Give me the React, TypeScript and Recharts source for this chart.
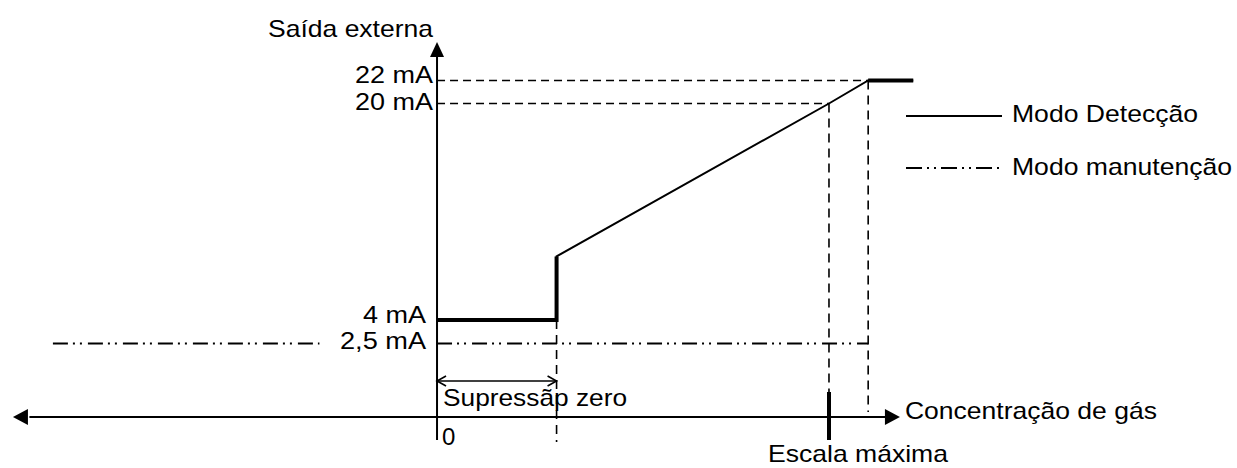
import { ComposedChart, Line, XAxis, YAxis, ReferenceLine, ReferenceDot, Legend } from "recharts"

// ── Data (x in % of full scale, y in mA) ──
const detectX = [0, 30.5, 30.5, 100, 110, 121.5]
const detectMA = [4, 4, 8.7, 20, 22, 22]
// thick parts of the same curve (null = break)
const detectThickX = [0, 30.5, 30.5, 70, 110, 121.5]
const detectThickMA: (number | null)[] = [4, 4, 8.7, null, 22, 22]
const maintX = [-98, -30, -15, 0, 110]
const maintMA: (number | null)[] = [2.5, 2.5, null, 2.5, 2.5]

const tickMA = [22, 20, 4, 2.5]
const tickLabels = ["22 mA", "20 mA", "4 mA", "2,5 mA"]
const tickWidths = [78, 78, 63, 86]
const tickDx = [-4, -4, -11, -11]
const tickDy = [2.5, 6.5, 2.5, 5.5]

const SUPPRESSION = 30.5
const FULL_SCALE = 100
const SATURATION = 110

// schematic y axis is not to scale: mA -> drawing level
const Y_KNOTS_MA = [0, 2.5, 4, 20, 22]
const Y_KNOTS_LEVEL = [0, 73.5, 97, 313.5, 336.5]
function level(ma: number) {
  for (let i = 1; i < Y_KNOTS_MA.length; i++) {
    if (ma <= Y_KNOTS_MA[i] || i === Y_KNOTS_MA.length - 1) {
      const t = (ma - Y_KNOTS_MA[i - 1]) / (Y_KNOTS_MA[i] - Y_KNOTS_MA[i - 1])
      return Y_KNOTS_LEVEL[i - 1] + t * (Y_KNOTS_LEVEL[i] - Y_KNOTS_LEVEL[i - 1])
    }
  }
  return 0
}

const toRows = (xs: number[], ys: (number | null)[]) =>
  xs.map((x, i) => ({ x, y: ys[i] == null ? null : level(ys[i] as number) }))

const detectRows = toRows(detectX, detectMA)
const detectThickRows = toRows(detectThickX, detectThickMA)
const maintRows = toRows(maintX, maintMA)

// ── Styles ──
const FONT = "'Liberation Sans', Arial, sans-serif"
const DASH = "8 5"
const DASH_DOT = "15 5 2 5 2 6"

// ── Shapes ──
const txt = (text: string, width: number | undefined, dx: number, dy: number, anchor: "start" | "end" = "start") =>
  (p: any) => (
    <text x={p.cx + dx} y={p.cy + dy} textAnchor={anchor} textLength={width}
      lengthAdjust={width ? "spacingAndGlyphs" : undefined} fontSize={24} fontFamily={FONT} fill="#000">
      {text}
    </text>
  )

const tri = (dir: "left" | "right" | "up") => (p: any) => {
  const { cx, cy } = p
  const len = 15, half = 8
  const d =
    dir === "left" ? `M${cx},${cy} L${cx + len},${cy - half} L${cx + len},${cy + half} Z`
    : dir === "right" ? `M${cx},${cy} L${cx - len},${cy - half} L${cx - len},${cy + half} Z`
    : `M${cx},${cy} L${cx - 7},${cy + len} L${cx + 7},${cy + len} Z`
  return <path d={d} fill="#000" />
}

const chevron = (dir: "left" | "right") => (p: any) => {
  const { cx, cy } = p
  const s = dir === "left" ? 1 : -1
  return <path d={`M${cx + s * 9},${cy - 5} L${cx},${cy} L${cx + s * 9},${cy + 5}`}
    fill="none" stroke="#000" strokeWidth={1.6} />
}

function LegendBox() {
  return (
    <svg width={337} height={90}>
      <line x1={6} x2={102} y1={16} y2={16} stroke="#000" strokeWidth={2} />
      <text x={112} y={21.7} fontSize={24} fontFamily={FONT} textLength={186} lengthAdjust="spacingAndGlyphs">Modo Detecção</text>
      <line x1={6} x2={102} y1={68} y2={68} stroke="#000" strokeWidth={1.8} strokeDasharray="16 5 2 5 2 5" />
      <text x={112} y={75} fontSize={24} fontFamily={FONT} textLength={220} lengthAdjust="spacingAndGlyphs">Modo manutenção</text>
    </svg>
  )
}

export default function App() {
  return (
    <div style={{ position: "absolute", left: 0, top: 0, background: "#fff" }}>
      <ComposedChart width={1237} height={468} margin={{ top: 0, right: 0, bottom: 0, left: 0 }}>
        <XAxis type="number" dataKey="x" domain={[-111.5, 204.1]} allowDataOverflow hide />
        <YAxis type="number" domain={[-51, 417]} allowDataOverflow hide />

        {/* dashed guides */}
        <ReferenceLine segment={[{ x: 0, y: level(22) }, { x: SATURATION, y: level(22) }]} stroke="#000" strokeWidth={1.4} strokeDasharray={DASH} />
        <ReferenceLine segment={[{ x: 0, y: level(20) }, { x: FULL_SCALE, y: level(20) }]} stroke="#000" strokeWidth={1.4} strokeDasharray={DASH} />
        <ReferenceLine segment={[{ x: FULL_SCALE, y: level(20) }, { x: FULL_SCALE, y: 25 }]} stroke="#000" strokeWidth={1.6} strokeDasharray="9 6" />
        <ReferenceLine segment={[{ x: SATURATION, y: level(22) }, { x: SATURATION, y: 5 }]} stroke="#000" strokeWidth={1.6} strokeDasharray="9 6" />
        <ReferenceLine segment={[{ x: SUPPRESSION, y: level(4) }, { x: SUPPRESSION, y: -25 }]} stroke="#000" strokeWidth={1.6} strokeDasharray="9 6" />

        {/* axes */}
        <ReferenceLine segment={[{ x: -104, y: 0 }, { x: 115, y: 0 }]} stroke="#000" strokeWidth={2} />
        <ReferenceLine segment={[{ x: 0, y: -23 }, { x: 0, y: 362 }]} stroke="#000" strokeWidth={2} />
        <ReferenceDot x={-108.2} y={0} r={0} shape={tri("left")} />
        <ReferenceDot x={118.1} y={0} r={0} shape={tri("right")} />
        <ReferenceDot x={0} y={375} r={0} shape={tri("up")} />

        {/* full scale tick */}
        <ReferenceLine segment={[{ x: FULL_SCALE, y: 25 }, { x: FULL_SCALE, y: -23 }]} stroke="#000" strokeWidth={4} />

        {/* zero suppression span */}
        <ReferenceLine segment={[{ x: 0, y: 36 }, { x: SUPPRESSION, y: 36 }]} stroke="#000" strokeWidth={1.6} />
        <ReferenceDot x={0} y={36} r={0} shape={chevron("left")} />
        <ReferenceDot x={SUPPRESSION} y={36} r={0} shape={chevron("right")} />

        {/* series */}
        <Line data={maintRows} dataKey="y" name="Modo manutenção" stroke="#000" strokeWidth={1.8}
          strokeDasharray={DASH_DOT} dot={false} activeDot={false} isAnimationActive={false} />
        <Line data={detectRows} dataKey="y" name="Modo Detecção" stroke="#000" strokeWidth={2}
          dot={false} activeDot={false} isAnimationActive={false} />
        <Line data={detectThickRows} dataKey="y" legendType="none" stroke="#000" strokeWidth={4}
          dot={false} activeDot={false} isAnimationActive={false} />

        {/* tick labels */}
        {tickMA.map((ma, i) => (
          <ReferenceDot key={tickLabels[i]} x={0} y={level(ma)} r={0}
            shape={txt(tickLabels[i], tickWidths[i], tickDx[i], tickDy[i], "end")} />
        ))}

        {/* texts */}
        <ReferenceDot x={0} y={375} r={0} shape={txt("Saída externa", 165, -4, -5, "end")} />
        <ReferenceDot x={118.1} y={0} r={0} shape={txt("Concentração de gás", 252, 5, 2)} />
        <ReferenceDot x={FULL_SCALE} y={-23} r={0} shape={txt("Escala máxima", 180, -61, 22)} />
        <ReferenceDot x={0} y={0} r={0} shape={txt("Supressãp zero", 184, 6, -11)} />
        <ReferenceDot x={0} y={0} r={0} shape={txt("0", undefined, 5, 28)} />

        <Legend layout="vertical" align="center" verticalAlign="middle" content={() => <LegendBox />}
          wrapperStyle={{ position: "absolute", left: 900, top: 100, width: 337, height: 90 }} />
      </ComposedChart>
    </div>
  )
}
